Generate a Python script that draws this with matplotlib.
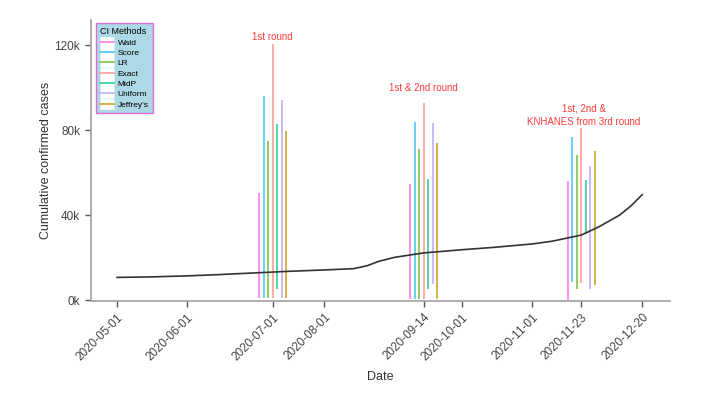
import numpy as np
import pandas as pd
import matplotlib
matplotlib.use("Agg")
import matplotlib.pyplot as plt
import matplotlib.dates as mdates
from matplotlib.lines import Line2D
from matplotlib.legend_handler import HandlerTuple
from matplotlib.ticker import FuncFormatter

plt.rcParams["font.family"] = ["Liberation Sans", "DejaVu Sans"]

# cumulative confirmed cases (black curve)
curve_dates = ["2020-05-01", "2020-05-15", "2020-06-01", "2020-06-15", "2020-07-01",
               "2020-07-15", "2020-08-01", "2020-08-14", "2020-08-20", "2020-08-25",
               "2020-09-01", "2020-09-14", "2020-10-01", "2020-10-15", "2020-11-01",
               "2020-11-10", "2020-11-23", "2020-12-01", "2020-12-10", "2020-12-15",
               "2020-12-20"]
curve_cases = [10800, 11000, 11500, 12100, 12900,
               13600, 14300, 14900, 16300, 18300,
               20200, 22300, 23800, 24900, 26500,
               27800, 30700, 34700, 40100, 44400,
               49700]

methods = ["Wald", "Score", "LR", "Exact", "MidP", "Uniform", "Jeffrey's"]
method_colors = ["#FF88E6", "#5CC9F2", "#8DC653", "#FFA3A3", "#3FD3A4", "#C7B3F5", "#D6AA3E"]

round_dates = ["2020-07-09", "2020-09-14", "2020-11-23"]
round_labels = ["1st round", "1st & 2nd round", "1st, 2nd &\nKNHANES from 3rd round"]

ci_upper = [
    [50500, 96000, 74700, 120500, 83000, 94200, 79400],
    [54800, 84000, 71100, 92700, 57000, 83300, 74200],
    [56200, 77000, 68400, 81000, 56400, 63300, 70000],
]
ci_lower = [
    [1000, 1000, 1000, 1000, 5200, 1000, 1000],
    [500, 500, 500, 500, 5200, 7500, 500],
    [0, 8800, 5500, 8300, 31000, 5200, 7200],
]

tick_dates = ["2020-05-01", "2020-06-01", "2020-07-09", "2020-08-01", "2020-09-14",
              "2020-10-01", "2020-11-01", "2020-11-23", "2020-12-20"]
tick_labels = ["2020-05-01", "2020-06-01", "2020-07-01", "2020-08-01", "2020-09-14",
               "2020-10-01", "2020-11-01", "2020-11-23", "2020-12-20"]

fig = plt.figure(figsize=(7.01, 4.0), dpi=100)
ax = fig.add_axes([0.13, 0.2475, 0.826, 0.7025])

ax.plot(pd.to_datetime(curve_dates), curve_cases, color="#333333", lw=1.2, zorder=3)

spacing = 2.0  # days between methods in a cluster
for r, d in enumerate(round_dates):
    center = mdates.date2num(pd.Timestamp(d))
    for i, m in enumerate(methods):
        x = center + (i - 3) * spacing
        ax.vlines(x, ci_lower[r][i], ci_upper[r][i], color=method_colors[i], lw=1.3, zorder=2)

red = "#FF3B3B"
ax.text(pd.Timestamp(round_dates[0]), 123800, round_labels[0], color=red,
        fontsize=7, ha="center", va="center")
ax.text(pd.Timestamp(round_dates[1]), 99800, round_labels[1], color=red,
        fontsize=7, ha="center", va="center")
ax.text(pd.Timestamp(round_dates[2]) + pd.Timedelta(days=1), 87000, round_labels[2],
        color=red, fontsize=7, ha="center", va="center", multialignment="center",
        linespacing=1.45)

ax.set_xlim(mdates.date2num(pd.Timestamp("2020-04-19")) + 0.5,
            mdates.date2num(pd.Timestamp("2021-01-01")) + 0.4)
ax.set_ylim(-300, 131800)

ax.set_xticks(pd.to_datetime(tick_dates))
ax.set_xticklabels(tick_labels, rotation=45, ha="right", rotation_mode="anchor")
ax.set_yticks([0, 40000, 80000, 120000])
ax.yaxis.set_major_formatter(FuncFormatter(lambda v, p: f"{int(v / 1000)}k"))

for s in ["top", "right"]:
    ax.spines[s].set_visible(False)
for s in ["left", "bottom"]:
    ax.spines[s].set_color("#A0A0A0")
    ax.spines[s].set_linewidth(1.2)
ax.tick_params(axis="both", colors="#555555", labelcolor="#444444", length=4.5,
               width=1.0, labelsize=8.5)
ax.tick_params(axis="x", pad=3)

ax.set_xlabel("Date", fontsize=9, color="#333333", labelpad=6)
ax.set_ylabel("Cumulative confirmed cases", fontsize=9, color="#333333", labelpad=2)

handles = [(Line2D([], [], color="white", lw=7.6, solid_capstyle="butt"),
            Line2D([], [], color=c, lw=1.3)) for c in method_colors]
leg = ax.legend(handles, methods, title="CI Methods", loc="upper left",
                bbox_to_anchor=(0.0086, 0.989), borderaxespad=0, fontsize=6,
                title_fontsize=6.5, frameon=True, fancybox=False,
                facecolor="#ADD8E6", edgecolor="#DA70D6", framealpha=1,
                handlelength=1.6, handletextpad=0.5, labelspacing=0.3,
                borderpad=0.5, alignment="left",
                handler_map={tuple: HandlerTuple(ndivide=1, pad=0)})
leg.get_frame().set_linewidth(1.0)

fig.savefig("out.png", dpi=100)
